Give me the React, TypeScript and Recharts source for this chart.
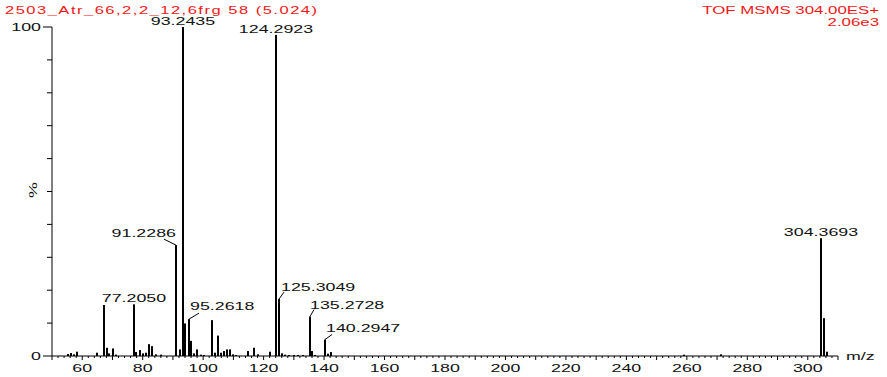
import { BarChart, Bar, XAxis, YAxis } from "recharts";

// m/z of every stick in the spectrum
const peakMz = [
  55.3, 56.3, 57.2, 58.2, 65.1, 67.2, 68.1, 69.0, 70.2, 71.1,
  77.205, 78.0, 79.3, 80.2, 81.3, 82.1, 83.1, 84.5, 86.2,
  91.2286, 92.25, 93.2435, 94.1, 95.2618, 96.1, 97.2, 98.1, 99.2, 100.2,
  103.0, 104.0, 105.1, 106.0, 106.9, 107.9, 108.8, 109.9, 111.0,
  115.0, 117.0, 118.1, 122.2, 124.2923, 125.3049, 126.3, 127.3, 128.5,
  130.0, 131.5, 133.0, 135.2728, 136.2, 137.2, 140.2947, 141.3, 142.3,
  259.0, 271.5, 304.3693, 305.37, 306.37,
];

// relative intensity (%) for each m/z above
const peakIntensity = [
  0.6, 0.9, 0.5, 1.3, 1.0, 15.5, 2.5, 0.8, 2.3, 0.4,
  15.7, 1.2, 1.8, 0.8, 1.0, 3.6, 3.0, 0.5, 0.4,
  33.7, 2.0, 100, 9.9, 11.2, 4.6, 0.8, 2.0, 0.4, 0.3,
  10.9, 1.0, 6.2, 1.0, 1.5, 2.0, 2.0, 0.5, 0.3,
  1.5, 2.5, 0.5, 1.3, 97.6, 17.3, 0.8, 0.4, 0.3,
  0.3, 0.3, 0.3, 12.0, 1.5, 0.3, 5.0, 0.7, 1.2,
  0.4, 0.5, 35.8, 11.5, 1.3,
];

const peakLabels = [
  "77.2050", "91.2286", "93.2435", "95.2618", "124.2923",
  "125.3049", "135.2728", "140.2947", "304.3693",
];

const xTickLabels = [60, 80, 100, 120, 140, 160, 180, 200, 220, 240, 260, 280, 300];
const yTickLabels = [0, 100];

const titleLeft = "2503_Atr_66,2,2_12,6frg 58 (5.024)";
const titleRight = "TOF MSMS 304.00ES+";
const titleRight2 = "2.06e3";

const data = peakMz.map((mz, i) => ({
  mz,
  intensity: peakIntensity[i],
  label: peakLabels.find((l) => Number(l) === mz),
}));

const xTicks: number[] = [];
for (let v = 50; v <= 310; v += 2) xTicks.push(v);
const yTicks = [0, 10, 20, 30, 40, 50, 60, 70, 80, 90, 100];

const FONT = "'Liberation Sans', Arial, sans-serif";

// the instrument font is drawn wide: 11px glyphs stretched sideways
function WideText({ x, y, anchor = "start", fill = "#111", children, rotate, length, sx = 1.62 }: any) {
  const tf = rotate
    ? `translate(${x} ${y}) rotate(${rotate}) scale(${sx} 1)`
    : `translate(${x} ${y}) scale(${sx} 1)`;
  return (
    <text
      transform={tf}
      x={0}
      y={0}
      textAnchor={anchor}
      fontFamily={FONT}
      fontSize={11}
      fill={fill}
      textLength={length}
      lengthAdjust={length ? "spacing" : undefined}
    >
      {children}
    </text>
  );
}

// placement of labels next to their peak; "top" labels sit centred on it
const labelPlacement: Record<string, any> = {
  "91.2286": { lx: -12, ly: -6, tx: 0, ty: -8, anchor: "end" },
  "95.2618": { lx: 10, ly: -6, tx: 1, ty: -9, anchor: "start" },
  "125.3049": { lx: 5, ly: -7, tx: 2, ty: -8, anchor: "start" },
  "135.2728": { lx: 4, ly: -7, tx: 0, ty: -8, anchor: "start" },
  "140.2947": { lx: 7, ly: -5, tx: 1, ty: -8, anchor: "start" },
};

function PeakShape(props: any) {
  const { x, y, width, height, payload } = props;
  const cx = Math.round(x + width / 2);
  const label = payload?.label;
  const p = label ? labelPlacement[label] : null;
  return (
    <g>
      <rect x={cx - 1} y={y} width={2} height={Math.max(height, 0.5)} fill="#000" />
      {label && !p && (
        <WideText x={cx} y={y - 2} anchor="middle">
          {label}
        </WideText>
      )}
      {label && p && (
        <g>
          <line x1={cx} y1={y} x2={cx + p.lx} y2={y + p.ly} stroke="#000" strokeWidth={1} />
          <WideText x={cx + p.tx} y={y + p.ty} anchor={p.anchor}>
            {label}
          </WideText>
        </g>
      )}
    </g>
  );
}

function XTick(props: any) {
  const { x, y, payload } = props;
  const v = payload.value;
  const major = v % 10 === 0;
  return (
    <g>
      <line x1={x} y1={y} x2={x} y2={y + (major ? 4 : 2)} stroke="#000" />
      {xTickLabels.includes(v) && (
        <WideText x={x} y={y + 16} anchor="middle">
          {v}
        </WideText>
      )}
    </g>
  );
}

function YTick(props: any) {
  const { x, y, payload } = props;
  const v = payload.value;
  const labelled = yTickLabels.includes(v);
  return (
    <g>
      <line x1={x - (labelled ? 9 : 5)} y1={y} x2={x} y2={y} stroke="#000" />
      {labelled && (
        <WideText x={x - 11} y={y + 4} anchor="end">
          {v}
        </WideText>
      )}
    </g>
  );
}

export default function App() {
  return (
    <div style={{ position: "absolute", left: 0, top: 0, width: 887, height: 377, background: "#fff" }}>
      <BarChart
        width={887}
        height={377}
        data={data}
        margin={{ top: 27, right: 49, bottom: 0, left: 0 }}
      >
        <XAxis
          type="number"
          dataKey="mz"
          domain={[50, 310]}
          ticks={xTicks}
          interval={0}
          height={21}
          tickSize={0}
          tickMargin={0}
          tickLine={false}
          tick={XTick}
          axisLine={{ stroke: "#000" }}
        />
        <YAxis
          type="number"
          domain={[0, 100]}
          ticks={yTicks}
          interval={0}
          width={52}
          tickSize={0}
          tickMargin={0}
          tickLine={false}
          tick={YTick}
          axisLine={{ stroke: "#000" }}
        />
        <Bar dataKey="intensity" barSize={2} shape={PeakShape} isAnimationActive={false} />
      </BarChart>
      <svg
        width={887}
        height={377}
        style={{ position: "absolute", left: 0, top: 0, pointerEvents: "none" }}
      >
        <WideText x={5} y={14} fill="#f01818" sx={1.5} length={208}>
          {titleLeft}
        </WideText>
        <WideText x={879} y={14} anchor="end" fill="#f01818" sx={1.53}>
          {titleRight}
        </WideText>
        <WideText x={879} y={26} anchor="end" fill="#f01818" sx={1.53}>
          {titleRight2}
        </WideText>
        <WideText x={37} y={190} anchor="middle" rotate={-90}>
          %
        </WideText>
        <WideText x={846} y={360}>
          m/z
        </WideText>
      </svg>
    </div>
  );
}
